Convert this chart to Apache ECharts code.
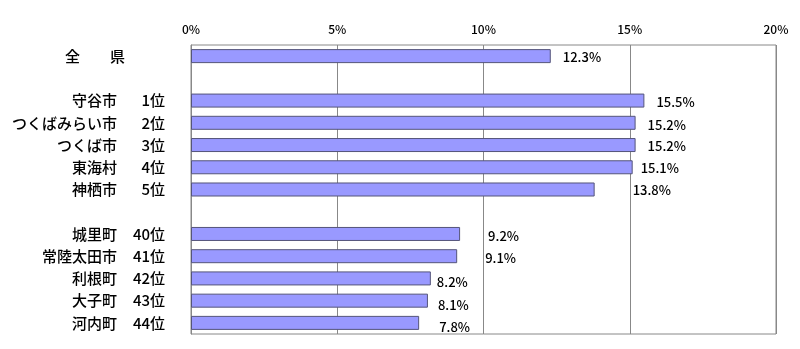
<!DOCTYPE html>
<html><head><meta charset="utf-8">
<script src="https://cdn.jsdelivr.net/npm/echarts@6/dist/echarts.min.js"></script>
<style>html,body{margin:0;padding:0;background:#fff}#c{width:800px;height:349px}</style>
</head><body><div id="c"></div>
<script>
const names = ['全　　県', '', '守谷市', 'つくばみらい市', 'つくば市', '東海村', '神栖市', '', '城里町', '常陸太田市', '利根町', '大子町', '河内町'];
const ranks = ['', '', '1位', '2位', '3位', '4位', '5位', '', '40位', '41位', '42位', '43位', '44位'];
const values = [12.3, null, 15.5, 15.2, 15.2, 15.1, 13.8, null, 9.2, 9.1, 8.2, 8.1, 7.8];
const xTicks = [0, 5, 10, 15, 20];

// label styling (manual placement as in the original)
const labelShift = [[12,1],[0,0],[12,1],[12,2],[12,1],[8,1],[38,1],[0,0],[28,2],[28,2],[6,4],[10,4],[20,4]];

const cats = names.map((n, i) => i + '');
const seriesData = values.map((v, i) => ({
  value: v,
  label: { offset: labelShift[i] }
}));

const FF = '"Noto Sans CJK JP", sans-serif';
const chart = echarts.init(document.getElementById('c'));
chart.setOption({
  animation: false,
  textStyle: { fontFamily: FF },
  grid: { left: 191, right: 24, top: 45, bottom: 15, show: true, borderColor: '#888', borderWidth: 1 },
  xAxis: {
    type: 'value', position: 'top', min: xTicks[0], max: xTicks[xTicks.length - 1], interval: 5,
    axisLine: { show: false }, axisTick: { show: false },
    splitLine: { show: true, lineStyle: { color: '#888', width: 1 } },
    axisLabel: { formatter: '{value}%', color: '#000', fontSize: 12, margin: 10, fontFamily: FF, fontWeight: 500 }
  },
  yAxis: {
    type: 'category', inverse: true, data: cats,
    axisLine: { show: true, lineStyle: { color: '#888' } }, axisTick: { show: false },
    axisLabel: {
      margin: 26, color: '#000',
      formatter: function (v) {
        const i = +v;
        if (!names[i]) return '';
        if (!ranks[i]) return '{n|' + names[i] + '}{g|}';
        return '{n|' + names[i] + '}{r|' + ranks[i] + '}';
      },
      rich: {
        n: { fontSize: 15, align: 'right', color: '#000', fontFamily: FF, fontWeight: 500 },
        r: { fontSize: 15, width: 48, align: 'right', color: '#000', fontFamily: FF, fontWeight: 500 },
        g: { width: 40 }
      }
    }
  },
  series: [{
    type: 'bar', data: seriesData, barWidth: '63%',
    itemStyle: { color: '#9999FF', borderColor: '#55557a', borderWidth: 1 },
    label: {
      show: true, position: 'right', distance: 0, color: '#000', fontSize: 13, fontWeight: 500,
      fontFamily: FF,
      formatter: p => p.value == null ? '' : p.value.toFixed(1) + '%'
    }
  }]
});
</script></body></html>
